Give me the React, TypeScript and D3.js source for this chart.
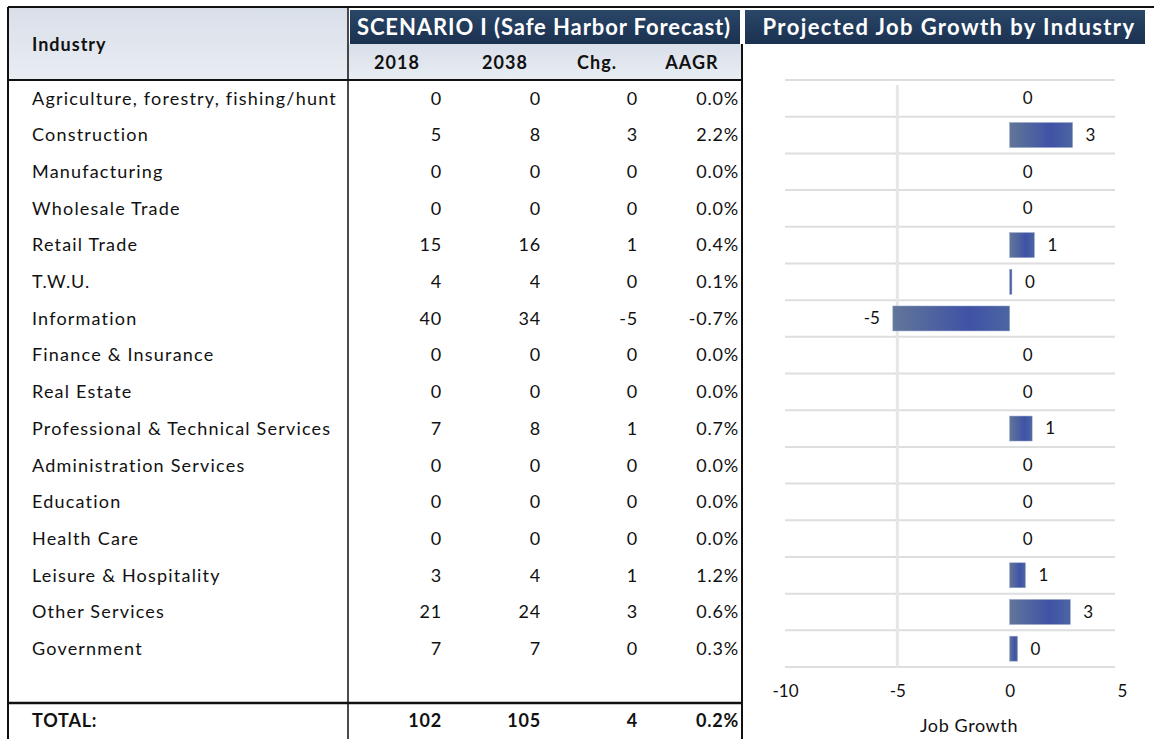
import React, { useRef, useEffect } from "react";
import * as d3 from "d3";

const width = 1154;
const height = 739;

const industries = [
  "Agriculture, forestry, fishing/hunt",
  "Construction",
  "Manufacturing",
  "Wholesale Trade",
  "Retail Trade",
  "T.W.U.",
  "Information",
  "Finance & Insurance",
  "Real Estate",
  "Professional & Technical Services",
  "Administration Services",
  "Education",
  "Health Care",
  "Leisure & Hospitality",
  "Other Services",
  "Government",
];
const jobs2018 = [0, 5, 0, 0, 15, 4, 40, 0, 0, 7, 0, 0, 0, 3, 21, 7];
const jobs2038 = [0, 8, 0, 0, 16, 4, 34, 0, 0, 8, 0, 0, 0, 4, 24, 7];
const jobChange = [0, 3, 0, 0, 1, 0, -5, 0, 0, 1, 0, 0, 0, 1, 3, 0];
const growthRate = [0.0, 2.2, 0.0, 0.0, 0.4, 0.1, -0.7, 0.0, 0.0, 0.7, 0.0, 0.0, 0.0, 1.2, 0.6, 0.3];
// bar lengths as drawn (labels are rounded)
const barGrowth = [0, 2.8, 0, 0, 1.1, 0.1, -5.2, 0, 0, 1.0, 0, 0, 0, 0.7, 2.7, 0.35];
const totalRow = [102, 105, 4, 0.2];
const columnHeads = ["2018", "2038", "Chg.", "AAGR"];
const axisTicks = [-10, -5, 0, 5];

const font = "Lato, 'Open Sans', sans-serif";
const locale = d3.formatLocale({ decimal: ".", thousands: ",", grouping: [3], currency: ["$", ""], minus: "-" });
const fmtInt = locale.format(".0f");
const fmtPct = (v: number) => locale.format(".1f")(v) + "%";

const tbl = { left: 8, split: 348, right: 742, top: 7, sub: 44, head: 80, body: 667, totalTop: 703 };
const colRight = [442, 541, 638, 739];
const colHeadX = [397, 505, 597, 692];

const App = () => {
  const ref = useRef<SVGSVGElement>(null);

  const chart = () => {
    const svg = d3.select(ref.current)
      .attr("width", width)
      .attr("height", height)
      .attr("viewBox", [0, 0, width, height].join(" "))
      .style("font-family", font);
    svg.selectAll("*").remove();

    const defs = svg.append("defs");
    const hdr = defs.append("linearGradient").attr("id", "hdrGrad").attr("x1", 0).attr("x2", 0).attr("y1", 0).attr("y2", 1);
    hdr.append("stop").attr("offset", "0%").attr("stop-color", "#d9dfe9");
    hdr.append("stop").attr("offset", "100%").attr("stop-color", "#e9edf3");
    const navy = defs.append("linearGradient").attr("id", "navyGrad").attr("x1", 0).attr("x2", 0).attr("y1", 0).attr("y2", 1);
    navy.append("stop").attr("offset", "0%").attr("stop-color", "#2a4668");
    navy.append("stop").attr("offset", "100%").attr("stop-color", "#1b3150");
    const bar = defs.append("linearGradient").attr("id", "barGrad").attr("x1", 0).attr("x2", 1).attr("y1", 0).attr("y2", 0);
    bar.append("stop").attr("offset", "0%").attr("stop-color", "#627699");
    bar.append("stop").attr("offset", "65%").attr("stop-color", "#3f52a6");
    bar.append("stop").attr("offset", "100%").attr("stop-color", "#4d65a2");

    svg.append("rect").attr("width", width).attr("height", height).attr("fill", "#ffffff");

    // ---- table header
    svg.append("rect").attr("x", tbl.left).attr("y", tbl.top)
      .attr("width", tbl.split - tbl.left).attr("height", tbl.head - tbl.top).attr("fill", "url(#hdrGrad)");
    svg.append("rect").attr("x", tbl.split).attr("y", tbl.sub)
      .attr("width", tbl.right - tbl.split).attr("height", tbl.head - tbl.sub).attr("fill", "url(#hdrGrad)");
    svg.append("rect").attr("x", 350).attr("y", 10).attr("width", 390).attr("height", 34).attr("fill", "url(#navyGrad)");
    svg.append("rect").attr("x", 745).attr("y", 10).attr("width", 400).attr("height", 34).attr("fill", "url(#navyGrad)");

    svg.append("text").attr("x", 544).attr("y", 27).attr("dy", "0.35em").attr("text-anchor", "middle")
      .attr("font-size", 22).attr("font-weight", "bold").attr("letter-spacing", 0.9).attr("fill", "#ffffff")
      .text("SCENARIO I (Safe Harbor Forecast)");
    svg.append("text").attr("x", 949).attr("y", 27).attr("dy", "0.35em").attr("text-anchor", "middle")
      .attr("font-size", 22).attr("font-weight", "bold").attr("letter-spacing", 1.4).attr("fill", "#ffffff")
      .text("Projected Job Growth by Industry");

    svg.append("text").attr("x", 32).attr("y", 45).attr("dy", "0.35em")
      .attr("font-size", 18).attr("font-weight", "bold").attr("letter-spacing", 1).attr("fill", "#111").text("Industry");
    svg.append("g").selectAll("text").data(columnHeads).join("text")
      .attr("x", (d, i) => colHeadX[i]).attr("y", 63).attr("dy", "0.35em").attr("text-anchor", "middle")
      .attr("font-size", 18).attr("font-weight", "bold").attr("letter-spacing", 1).attr("fill", "#111").text(d => d);

    // ---- chart
    const x = d3.scaleLinear().domain([-10, 5]).range([785, 1122]);
    const y = d3.scaleBand().domain(industries).range([tbl.head, tbl.body]).paddingInner(0.32).paddingOuter(0.16);
    const step = y.step();
    const bandTop = (d: string) => (y(d) as number) - step * 0.16;

    svg.append("g").selectAll("line").data([...industries, "__end"]).join("line")
      .attr("x1", 785).attr("x2", 1115)
      .attr("y1", (d, i) => tbl.head + i * step).attr("y2", (d, i) => tbl.head + i * step)
      .attr("stroke", "#dedede").attr("stroke-width", 2);
    svg.append("g").selectAll("line").data(axisTicks.filter(t => t === -5)).join("line")
      .attr("x1", d => x(d)).attr("x2", d => x(d)).attr("y1", tbl.head + 5).attr("y2", tbl.body)
      .attr("stroke", "#e6e6e6").attr("stroke-width", 3);

    const chartData = industries.map((name, i) => ({ name, value: barGrowth[i] }));
    svg.append("g").selectAll("rect").data(chartData).join("rect")
      .attr("x", d => x(Math.min(0, d.value)))
      .attr("y", d => y(d.name) as number)
      .attr("width", d => Math.abs(x(d.value) - x(0)))
      .attr("height", y.bandwidth())
      .attr("fill", "url(#barGrad)")
      .attr("stroke", "#8fa0c4").attr("stroke-width", 0.5);

    svg.append("g").selectAll("text").data(chartData).join("text")
      .attr("x", d => d.value < 0 ? x(d.value) - 13 : x(d.value) + 13)
      .attr("y", d => (y(d.name) as number) + y.bandwidth() / 2)
      .attr("dy", "0.35em")
      .attr("text-anchor", d => d.value < 0 ? "end" : "start")
      .attr("font-size", 17).attr("fill", "#111")
      .text(d => fmtInt(d.value) === "-0" ? "0" : fmtInt(d.value));

    svg.append("g")
      .attr("transform", `translate(0, ${tbl.body})`)
      .call(d3.axisBottom(x).tickValues(axisTicks).tickSize(0).tickPadding(18).tickFormat(d => fmtInt(d as number)))
      .call(g => g.select(".domain").remove())
      .call(g => g.selectAll("text").attr("font-size", 17).attr("fill", "#111").attr("font-family", font));

    svg.append("text").attr("x", 969).attr("y", 726).attr("dy", "0.35em").attr("text-anchor", "middle")
      .attr("font-size", 18).attr("letter-spacing", 0.6).attr("fill", "#111").text("Job Growth");

    // ---- table body
    const rows = svg.append("g").selectAll("g").data(industries).join("g")
      .attr("transform", d => `translate(0, ${bandTop(d) + step / 2})`);
    rows.append("text").attr("x", 32).attr("dy", "0.35em").attr("font-size", 18)
      .attr("letter-spacing", 1.2).attr("fill", "#111").text(d => d);
    const cols = [
      (i: number) => String(jobs2018[i]),
      (i: number) => String(jobs2038[i]),
      (i: number) => fmtInt(jobChange[i]),
      (i: number) => fmtPct(growthRate[i]),
    ];
    cols.forEach((c, ci) => {
      rows.append("text").attr("x", colRight[ci]).attr("dy", "0.35em").attr("text-anchor", "end")
        .attr("font-size", 18).attr("letter-spacing", 0.8).attr("fill", "#111").text((d, i) => c(i));
    });

    const totalY = (tbl.totalTop + height) / 2;
    svg.append("text").attr("x", 32).attr("y", totalY).attr("dy", "0.35em")
      .attr("font-size", 18).attr("font-weight", "bold").attr("letter-spacing", 0.8).attr("fill", "#111").text("TOTAL:");
    svg.append("g").selectAll("text").data(totalRow).join("text")
      .attr("x", (d, i) => colRight[i]).attr("y", totalY).attr("dy", "0.35em").attr("text-anchor", "end")
      .attr("font-size", 18).attr("font-weight", "bold").attr("letter-spacing", 0.8).attr("fill", "#111")
      .text((d, i) => i === 3 ? fmtPct(d) : String(d));

    // ---- borders
    const lines = svg.append("g").attr("stroke", "#111");
    lines.append("line").attr("x1", tbl.left).attr("x2", width).attr("y1", tbl.top).attr("y2", tbl.top).attr("stroke-width", 2);
    lines.append("line").attr("x1", tbl.left).attr("x2", tbl.left).attr("y1", tbl.top).attr("y2", height).attr("stroke-width", 2);
    lines.append("line").attr("x1", tbl.split).attr("x2", tbl.split).attr("y1", tbl.top).attr("y2", height).attr("stroke-width", 1.5);
    lines.append("line").attr("x1", tbl.right).attr("x2", tbl.right).attr("y1", tbl.sub).attr("y2", height).attr("stroke-width", 2);
    lines.append("line").attr("x1", tbl.left).attr("x2", tbl.right).attr("y1", tbl.head).attr("y2", tbl.head).attr("stroke-width", 2);
    lines.append("line").attr("x1", tbl.left).attr("x2", tbl.right).attr("y1", tbl.totalTop).attr("y2", tbl.totalTop).attr("stroke-width", 2.5);
  };

  useEffect(() => {
    document.body.style.margin = "0";
    chart();
  }, []);

  return (
    <div>
      <svg ref={ref} style={{ display: "block" }} />
    </div>
  );
};

export default App;
